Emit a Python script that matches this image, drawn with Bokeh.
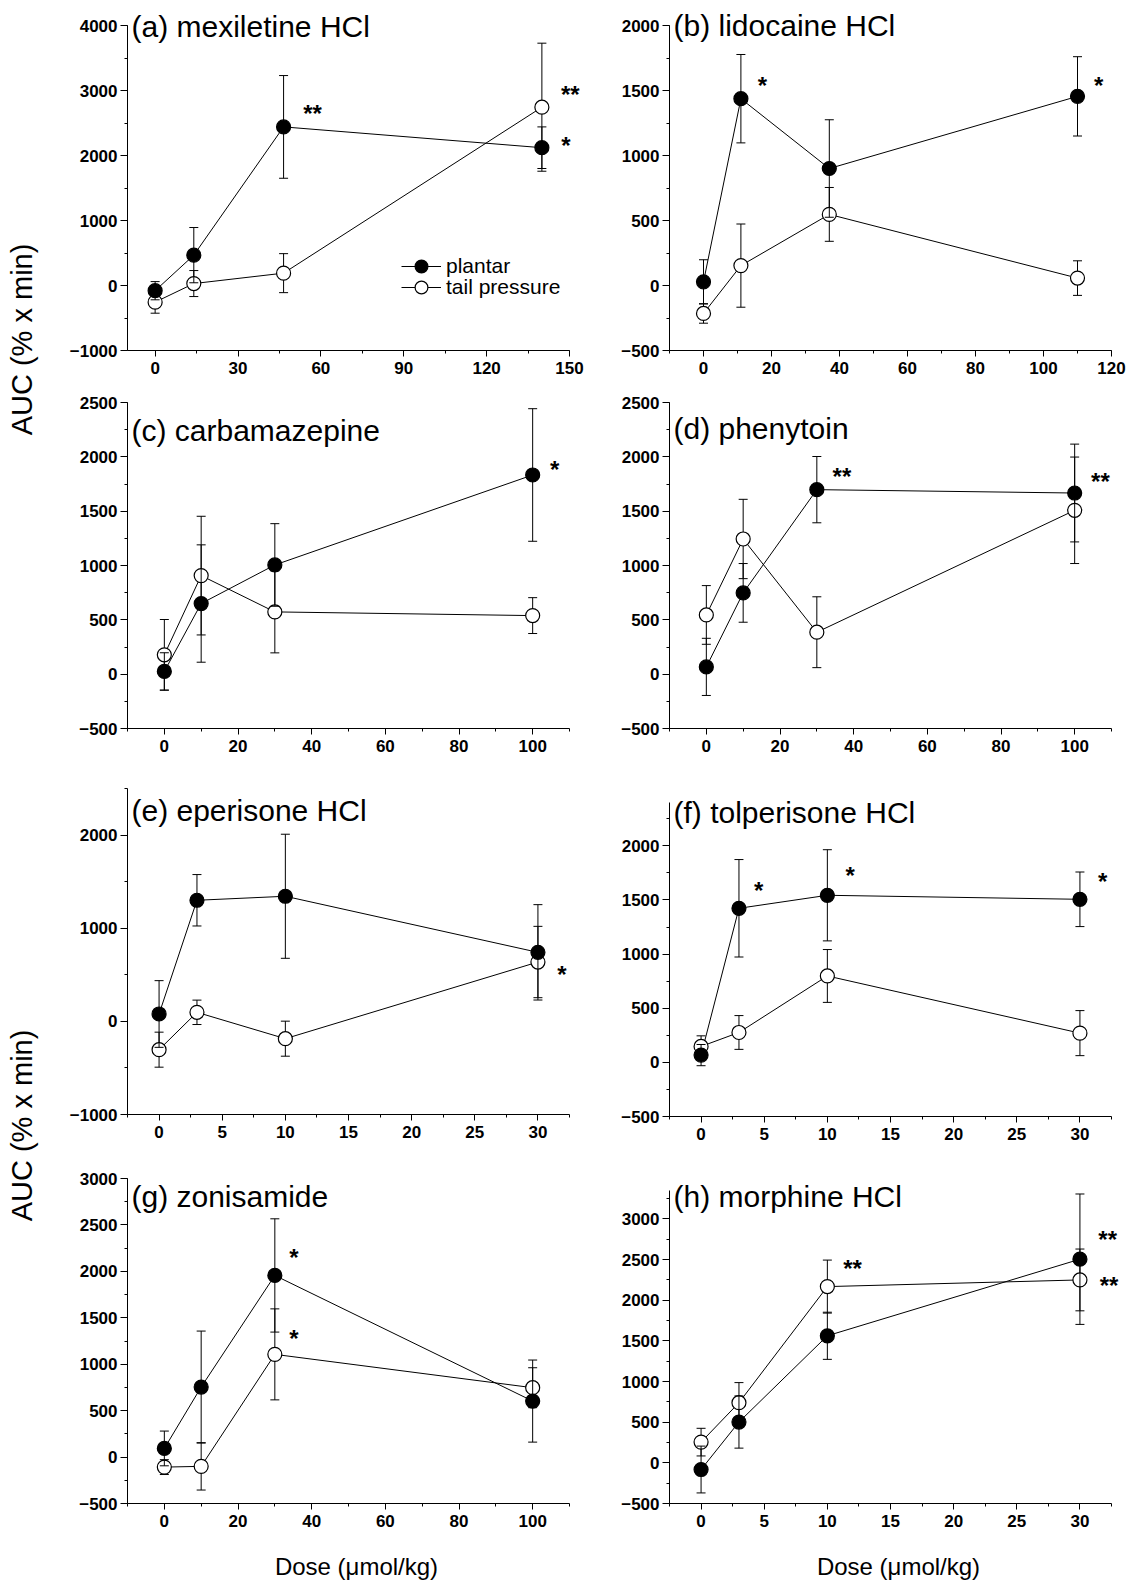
import math
from bokeh.plotting import figure
from bokeh.layouts import row, column
from bokeh.models import (ColumnDataSource, Label, Legend, LegendItem,
                          SingleIntervalTicker, Range1d)
from bokeh.embed import file_html
from bokeh.resources import INLINE
from bokeh.core.properties import value

FONT = "Liberation Sans"

# ---------------- data ----------------
series_names = ["plantar", "tail pressure"]
y_title = "AUC (% x min)"
x_title = "Dose (\u03bcmol/kg)"

a_title = "(a) mexiletine HCl"
a_dose = [0, 14, 46.5, 140]
a_plantar = [-80, 467, 2440, 2120]
a_plantar_err = [140, 425, 790, 320]
a_tail = [-256, 30, 190, 2743]
a_tail_err = [170, 200, 300, 985]
a_star_x = [57, 150.3, 148.7]
a_star_y = [2728, 3021, 2226]
a_star_t = ["**", "**", "*"]

b_title = "(b) lidocaine HCl"
b_dose = [0, 11, 37, 110]
b_plantar = [28, 1437, 900, 1455]
b_plantar_err = [170, 340, 375, 305]
b_tail = [-215, 153, 547, 57]
b_tail_err = [75, 320, 207, 133]
b_star_x = [17.3, 116.2]
b_star_y = [1579, 1579]
b_star_t = ["*", "*"]

c_title = "(c) carbamazepine"
c_dose = [0, 10, 30, 100]
c_plantar = [25, 650, 1005, 1833]
c_plantar_err = [172, 540, 380, 610]
c_tail = [178, 907, 573, 539]
c_tail_err = [325, 546, 377, 165]
c_star_x = [106]
c_star_y = [1928]
c_star_t = ["*"]

d_title = "(d) phenytoin"
d_dose = [0, 10, 30, 100]
d_plantar = [67, 748, 1698, 1667]
d_plantar_err = [263, 270, 305, 450]
d_tail = [545, 1244, 386, 1508]
d_tail_err = [270, 365, 326, 490]
d_star_x = [36.8, 107]
d_star_y = [1866, 1820]
d_star_t = ["**", "**"]

e_title = "(e) eperisone HCl"
e_dose = [0, 3, 10, 30]
e_plantar = [79, 1300, 1343, 741]
e_plantar_err = [358, 276, 666, 512]
e_tail = [-304, 97, -186, 637]
e_tail_err = [188, 131, 188, 383]
e_star_x = [31.9]
e_star_y = [562]
e_star_t = ["*"]

f_title = "(f) tolperisone HCl"
f_dose = [0, 3, 10, 30]
f_plantar = [67, 1423, 1543, 1506]
f_plantar_err = [98, 450, 421, 252]
f_tail = [147, 276, 798, 270]
f_tail_err = [98, 156, 244, 208]
f_star_x = [4.57, 11.8, 31.8]
f_star_y = [1632, 1770, 1712]
f_star_t = ["*", "*", "*"]

g_title = "(g) zonisamide"
g_dose = [0, 10, 30, 100]
g_plantar = [93, 754, 1956, 603]
g_plantar_err = [187, 603, 610, 442]
g_tail = [-108, -100, 1106, 747]
g_tail_err = [80, 255, 490, 215]
g_star_x = [35.2, 35.2]
g_star_y = [2200, 1328]
g_star_t = ["*", "*"]

h_title = "(h) morphine HCl"
h_dose = [0, 3, 10, 30]
h_plantar = [-82, 502, 1563, 2505]
h_plantar_err = [288, 321, 290, 802]
h_tail = [255, 740, 2168, 2250]
h_tail_err = [170, 247, 326, 380]
h_star_x = [12.0, 32.2, 32.3]
h_star_y = [2456, 2814, 2242]
h_star_t = ["**", "**", "**"]

# axis ranges and tick intervals
a_xr, a_yr, a_xint, a_yint = (-10, 150), (-1000, 4000), 30, 1000
b_xr, b_yr, b_xint, b_yint = (-10, 120), (-500, 2000), 20, 500
c_xr, c_yr, c_xint, c_yint = (-10, 110), (-500, 2500), 20, 500
d_xr, d_yr, d_xint, d_yint = (-10, 110), (-500, 2500), 20, 500
e_xr, e_yr, e_xint, e_yint = (-2.5, 32.5), (-1000, 2500), 5, 1000
f_xr, f_yr, f_xint, f_yint = (-2.5, 32.5), (-500, 2400), 5, 500
g_xr, g_yr, g_xint, g_yint = (-10, 110), (-500, 3000), 20, 500
h_xr, h_yr, h_xint, h_yint = (-2.5, 32.5), (-500, 3350), 5, 500

FRAME_W = 442      # width of the drawn x axis
EXT = 16           # extra room right of the x axis end (for the asterisks)
EXT_T = 20         # extra room above the y axis top (for the panel titles)
TICK_FS = "17px"


def style_axes(p, xr, yr, xint, yint):
    p.xaxis.ticker = SingleIntervalTicker(interval=xint, num_minor_ticks=2)
    p.yaxis.ticker = SingleIntervalTicker(interval=yint, num_minor_ticks=2)
    p.xaxis.bounds = xr
    p.yaxis.bounds = yr
    for ax in list(p.xaxis) + list(p.yaxis):
        ax.axis_line_color = "black"
        ax.axis_line_width = 1
        ax.major_tick_in = 0
        ax.minor_tick_in = 0
        ax.major_tick_line_color = "black"
        ax.minor_tick_line_color = "black"
        ax.minor_tick_out = 3
        ax.major_label_text_font = FONT
        ax.major_label_text_font_size = TICK_FS
        ax.major_label_text_font_style = "bold"
        ax.major_label_text_color = "black"
    p.xaxis.major_tick_out = 6
    p.xaxis.major_label_standoff = 5
    p.yaxis.major_tick_out = 7
    p.yaxis.major_label_standoff = 3
    p.grid.visible = False
    p.outline_line_color = None


def add_series(p, dose, vals, errs, filled):
    lo = [v - e for v, e in zip(vals, errs)]
    hi = [v + e for v, e in zip(vals, errs)]
    src = ColumnDataSource(dict(x=dose, y=vals, lo=lo, hi=hi))
    p.segment(x0="x", y0="lo", x1="x", y1="hi", source=src,
              line_color="black", line_width=1)
    p.scatter(x="x", y="lo", source=src, marker="dash", size=9,
              line_color="black", line_width=1)
    p.scatter(x="x", y="hi", source=src, marker="dash", size=9,
              line_color="black", line_width=1)
    mk = p.scatter(x="x", y="y", source=src, marker="circle", size=14,
                   fill_color="black" if filled else "white",
                   line_color="black", line_width=1.2)
    return mk


def panel(title, dose, pl, pl_err, tp, tp_err, sx, sy, st,
          xr, yr, xint, yint, fh, bt, bb, bl, br, title_dy,
          xlabel=None, legend=False):
    x_end = xr[1] + (xr[1] - xr[0]) * EXT / FRAME_W
    y_end = yr[1] + (yr[1] - yr[0]) * EXT_T / fh
    p = figure(frame_width=FRAME_W + EXT, frame_height=fh + EXT_T,
               x_range=Range1d(xr[0], x_end), y_range=Range1d(yr[0], y_end),
               min_border_top=bt - EXT_T, min_border_bottom=bb,
               min_border_left=bl, min_border_right=br,
               frame_align=False,
               toolbar_location=None, output_backend="svg",
               background_fill_color="white", border_fill_color="white")
    style_axes(p, xr, yr, xint, yint)
    if xlabel:
        p.xaxis.axis_label = xlabel
        p.xaxis.axis_label_text_font = FONT
        p.xaxis.axis_label_text_font_size = "24px"
        p.xaxis.axis_label_text_font_style = "normal"
        p.xaxis.axis_label_text_color = "black"
        p.xaxis.axis_label_standoff = 23

    ln_pl = p.line(dose, pl, line_color="black", line_width=1)
    ln_tp = p.line(dose, tp, line_color="black", line_width=1)
    mk_tp = add_series(p, dose, tp, tp_err, False)
    mk_pl = add_series(p, dose, pl, pl_err, True)

    for x, y, t in zip(sx, sy, st):
        p.add_layout(Label(x=x, y=y, text=t, text_align="center",
                           text_baseline="middle", y_offset=-5,
                           text_font=FONT, text_font_size="24px",
                           text_font_style="bold", text_color="black"))

    p.add_layout(Label(x=xr[0], y=yr[1], text=title, x_offset=4,
                       y_offset=title_dy, text_baseline="middle",
                       text_font=FONT, text_font_size="30px",
                       text_color="black"))

    if legend:
        for (lbl, rends, ly) in [(series_names[0], [ln_pl, mk_pl], 68),
                                 (series_names[1], [ln_tp, mk_tp], 47)]:
            lg = Legend(items=[LegendItem(label=lbl, renderers=rends)],
                        location=(274, ly), glyph_width=40, glyph_height=32,
                        padding=0, margin=0, label_standoff=5, spacing=0,
                        background_fill_alpha=0, border_line_alpha=0,
                        label_text_font=FONT, label_text_font_size="21px",
                        label_text_color="black")
            p.add_layout(lg)
    return p


L_BL, L_BR = 79, 31 - EXT
R_BL, R_BR = 69, 16 - EXT

pa = panel(a_title, a_dose, a_plantar, a_plantar_err, a_tail, a_tail_err,
           a_star_x, a_star_y, a_star_t, a_xr, a_yr, a_xint, a_yint,
           325, 25, 32, L_BL, L_BR, -1, legend=True)
pb = panel(b_title, b_dose, b_plantar, b_plantar_err, b_tail, b_tail_err,
           b_star_x, b_star_y, b_star_t, b_xr, b_yr, b_xint, b_yint,
           325, 25, 32, R_BL, R_BR, 0)
pc = panel(c_title, c_dose, c_plantar, c_plantar_err, c_tail, c_tail_err,
           c_star_x, c_star_y, c_star_t, c_xr, c_yr, c_xint, c_yint,
           326, 20, 32, L_BL, L_BR, -28)
pd_ = panel(d_title, d_dose, d_plantar, d_plantar_err, d_tail, d_tail_err,
            d_star_x, d_star_y, d_star_t, d_xr, d_yr, d_xint, d_yint,
            326, 20, 32, R_BL, R_BR, -26)
pe = panel(e_title, e_dose, e_plantar, e_plantar_err, e_tail, e_tail_err,
           e_star_x, e_star_y, e_star_t, e_xr, e_yr, e_xint, e_yint,
           326, 28, 34, L_BL, L_BR, -22)
pf = panel(f_title, f_dose, f_plantar, f_plantar_err, f_tail, f_tail_err,
           f_star_x, f_star_y, f_star_t, f_xr, f_yr, f_xint, f_yint,
           314, 42, 32, R_BL, R_BR, -10)
pg = panel(g_title, g_dose, g_plantar, g_plantar_err, g_tail, g_tail_err,
           g_star_x, g_star_y, g_star_t, g_xr, g_yr, g_xint, g_yint,
           325, 30, 76, L_BL, L_BR, -18, xlabel=x_title)
ph = panel(h_title, h_dose, h_plantar, h_plantar_err, h_tail, h_tail_err,
           h_star_x, h_star_y, h_star_t, h_xr, h_yr, h_xint, h_yint,
           313, 42, 76, R_BL, R_BR, -6, xlabel=x_title)

TOTAL_H = 1579
yl = figure(width=48, height=TOTAL_H, x_range=Range1d(0, 48),
            y_range=Range1d(0, TOTAL_H), x_axis_location=None,
            y_axis_location=None, min_border=0, toolbar_location=None,
            frame_align=False,
            output_backend="svg", outline_line_color=None)
yl.grid.visible = False
yl.text(x=[21, 21], y=[TOTAL_H - 339, TOTAL_H - 1125], text=[y_title, y_title],
        angle=math.pi / 2, text_align="center", text_baseline="middle",
        text_font=value(FONT), text_font_size="29px", text_color="black")

layout = row(yl, column(row(pa, pb), row(pc, pd_), row(pe, pf), row(pg, ph)))

open("out.html", "w").write(file_html(layout, INLINE, title="AUC dose response"))
